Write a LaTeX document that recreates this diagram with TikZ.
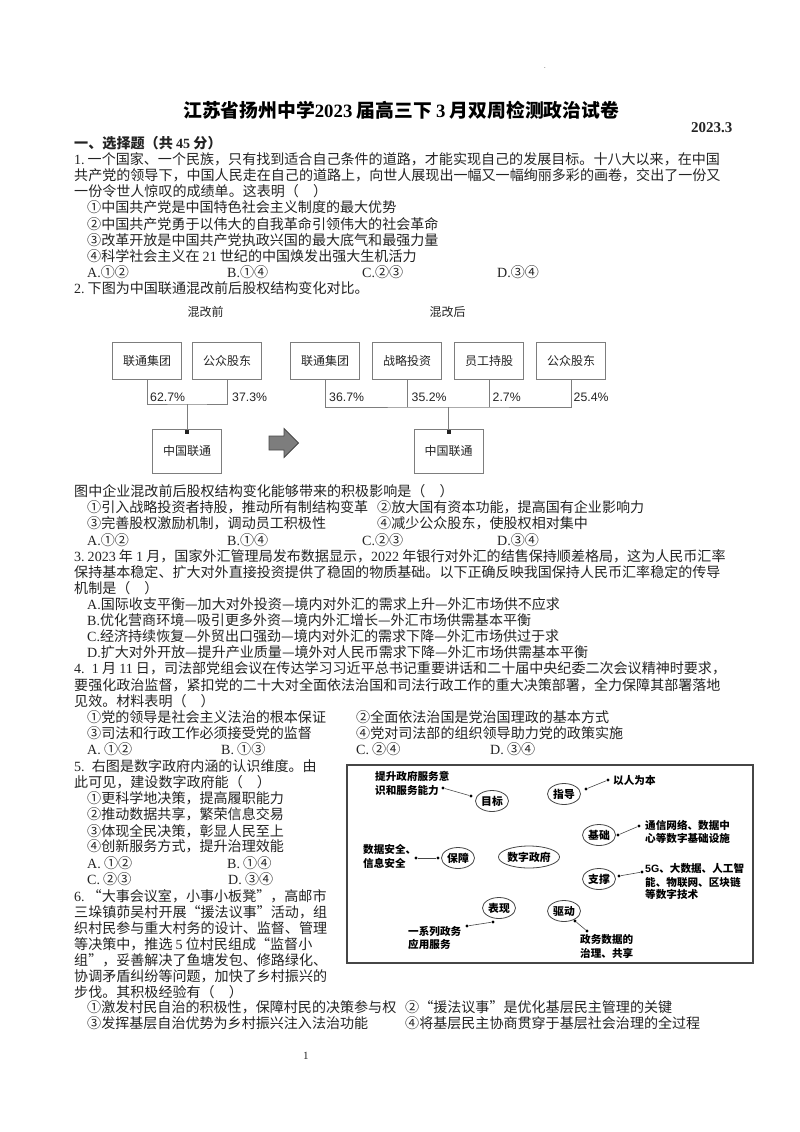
\documentclass[tikz,border=0pt]{standalone}
\usepackage{fontspec}
\setmainfont{Noto Sans CJK SC}
\newfontfamily\latf{Liberation Serif}
\newfontfamily\arialf{Liberation Sans}
\usepackage{xcolor}
\usetikzlibrary{shapes,positioning}
\definecolor{inkgray}{RGB}{35,35,35}
\definecolor{boxgray}{RGB}{125,125,125}
\definecolor{framegray}{RGB}{70,70,70}
\newcommand{\latn}[1]{{\latf #1}}
\tikzstyle{qline} = [anchor=base west, inner sep=0pt, text=inkgray, font=\fontsize{14.05}{16}\selectfont]
\tikzstyle{holdbox} = [rectangle, draw=boxgray, minimum width=69pt, minimum height=37pt, inner sep=0pt, text=inkgray, font=\fontsize{12}{14}\selectfont]
\tikzstyle{pct} = [anchor=base west, inner sep=0pt, text=inkgray, font=\arialf\fontsize{12.3}{14}\selectfont]
\tikzstyle{capt} = [inner sep=0pt, text=inkgray, font=\fontsize{12}{14}\selectfont]
\tikzstyle{bus} = [boxgray, thick]
\tikzstyle{pin} = [rectangle, fill=inkgray, minimum size=4pt, inner sep=0pt]
\tikzstyle{oval} = [ellipse, draw=framegray, thick, minimum width=33pt, minimum height=21pt, inner sep=0pt, font=\bfseries\fontsize{10.8}{12}\selectfont]
\tikzstyle{dotend} = [circle, fill=black, minimum size=3.4pt, inner sep=0pt]
\tikzstyle{link} = [framegray, semithick]
\tikzstyle{tag} = [anchor=base west, inner sep=0pt, font=\bfseries\fontsize{10.6}{12}\selectfont]
\begin{document}
\begin{tikzpicture}[x=1pt,y=-1pt]
\useasboundingbox (0,0) rectangle (800,1132);
% Head
\node[inner sep=0pt, font=\arialf\fontsize{6}{6}\selectfont] (topmark) at (545,68) {.};
\node[inner sep=0pt, anchor=base west, font=\bfseries\fontsize{18.8}{22}\selectfont] (title) at (183,117) {江苏省扬州中学\latn{2023} 届高三下 \latn{3} 月双周检测政治试卷};
\node[qline, font=\latf\bfseries\fontsize{15}{15}\selectfont] (date) at (691,132) {2023.3};
\node[qline, font=\bfseries\fontsize{14.1}{16}\selectfont] (part) at (74,148) {一、选择题（共 \latn{45} 分）};
% Question 1
\node[qline] (q1a) at (74,164) {\latn{1.\kern3pt}一个国家、一个民族，只有找到适合自己条件的道路，才能实现自己的发展目标。十八大以来，在中国};
\node[qline] (q1b) at (74,180) {共产党的领导下，中国人民走在自己的道路上，向世人展现出一幅又一幅绚丽多彩的画卷，交出了一份又};
\node[qline] (q1c) at (74,196) {一份令世人惊叹的成绩单。这表明（　）};
\node[qline] (q1d) at (87,212) {①中国共产党是中国特色社会主义制度的最大优势};
\node[qline] (q1e) at (87,229) {②中国共产党勇于以伟大的自我革命引领伟大的社会革命};
\node[qline] (q1f) at (87,245) {③改革开放是中国共产党执政兴国的最大底气和最强力量};
\node[qline] (q1g) at (87,261) {④科学社会主义在 \latn{21} 世纪的中国焕发出强大生机活力};
\node[qline] (q1A) at (87,277) {\latn{A.}①②};
\node[qline] (q1B) at (227,277) {\latn{B.}①④};
\node[qline] (q1C) at (362,277) {\latn{C.}②③};
\node[qline] (q1D) at (497,277) {\latn{D.}③④};
% Question 2
\node[qline] (q2a) at (74,293) {\latn{2.\kern3pt}下图为中国联通混改前后股权结构变化对比。};
\node[capt] (before) at (205.5,312) {混改前};
\node[capt] (after) at (447.5,312) {混改后};
\node[holdbox] (jt1) at (147,360.5) {联通集团};
\node[holdbox] (gz1) at (227,360.5) {公众股东};
\node[holdbox, minimum height=44pt] (cn1) at (187,451) {中国联通};
\coordinate (join1) at (187,404);
\draw[bus] (jt1.south) |- (join1) -| (gz1.south);
\draw[bus] (join1) -- (cn1.north);
\node[pin, below=0.5pt of cn1.north] (pin1) {};
\node[pct] (p11) at (150,401.5) {62.7\%};
\node[pct] (p12) at (232,401.5) {37.3\%};
\draw[framegray, fill=boxgray, thick] (269,436) -- (284,436) -- (284,428.5) -- (298.5,443) -- (284,457.5) -- (284,450) -- (269,450) -- cycle;
\node[holdbox] (jt2) at (325,360.5) {联通集团};
\node[holdbox] (zl2) at (407,360.5) {战略投资};
\node[holdbox] (yg2) at (489,360.5) {员工持股};
\node[holdbox] (gz2) at (571,360.5) {公众股东};
\node[holdbox, minimum height=44pt] (cn2) at (448.5,451) {中国联通};
\coordinate (join2) at (448.5,407);
\draw[bus] (jt2.south) |- (join2) -| (gz2.south);
\draw[bus] (zl2.south) -- (zl2.south |- join2);
\draw[bus] (yg2.south) -- (yg2.south |- join2);
\draw[bus] (join2) -- (cn2.north);
\node[pin, below=0.5pt of cn2.north] (pin2) {};
\node[pct] (p21) at (329,401.5) {36.7\%};
\node[pct] (p22) at (411.5,401.5) {35.2\%};
\node[pct] (p23) at (492.5,401.5) {2.7\%};
\node[pct] (p24) at (573.5,401.5) {25.4\%};
\node[qline] (q2b) at (74,496) {图中企业混改前后股权结构变化能够带来的积极影响是（　）};
\node[qline] (q2c) at (87,512) {①引入战略投资者持股，推动所有制结构变革};
\node[qline] (q2d) at (377,512) {②放大国有资本功能，提高国有企业影响力};
\node[qline] (q2e) at (87,528) {③完善股权激励机制，调动员工积极性};
\node[qline] (q2f) at (377,528) {④减少公众股东，使股权相对集中};
\node[qline] (q2A) at (87,545) {\latn{A.}①②};
\node[qline] (q2B) at (227,545) {\latn{B.}①④};
\node[qline] (q2C) at (362,545) {\latn{C.}②③};
\node[qline] (q2D) at (497,545) {\latn{D.}③④};
% Question 3
\node[qline] (q3a) at (74,561) {\latn{3.\kern3pt 2023} 年 \latn{1} 月，国家外汇管理局发布数据显示，\latn{2022} 年银行对外汇的结售保持顺差格局，这为人民币汇率};
\node[qline] (q3b) at (74,577) {保持基本稳定、扩大对外直接投资提供了稳固的物质基础。以下正确反映我国保持人民币汇率稳定的传导};
\node[qline] (q3c) at (74,593) {机制是（　）};
\node[qline] (q3A) at (87,609) {\latn{A.}国际收支平衡—加大对外投资—境内对外汇的需求上升—外汇市场供不应求};
\node[qline] (q3B) at (87,625) {\latn{B.}优化营商环境—吸引更多外资—境内外汇增长—外汇市场供需基本平衡};
\node[qline] (q3C) at (87,641) {\latn{C.}经济持续恢复—外贸出口强劲—境内对外汇的需求下降—外汇市场供过于求};
\node[qline] (q3D) at (87,657) {\latn{D.}扩大对外开放—提升产业质量—境外对人民币需求下降—外汇市场供需基本平衡};
% Question 4
\node[qline] (q4a) at (74,673) {\latn{4.\kern3pt} \latn{1} 月 \latn{11} 日，司法部党组会议在传达学习习近平总书记重要讲话和二十届中央纪委二次会议精神时要求，};
\node[qline] (q4b) at (74,690) {要强化政治监督，紧扣党的二十大对全面依法治国和司法行政工作的重大决策部署，全力保障其部署落地};
\node[qline] (q4c) at (74,706) {见效。材料表明（　）};
\node[qline] (q4d) at (87,722) {①党的领导是社会主义法治的根本保证};
\node[qline] (q4e) at (356,722) {②全面依法治国是党治国理政的基本方式};
\node[qline] (q4f) at (87,738) {③司法和行政工作必须接受党的监督};
\node[qline] (q4g) at (356,738) {④党对司法部的组织领导助力党的政策实施};
\node[qline] (q4A) at (87,754) {\latn{A.} ①②};
\node[qline] (q4B) at (221,754) {\latn{B.} ①③};
\node[qline] (q4C) at (356,754) {\latn{C.} ②④};
\node[qline] (q4D) at (490,754) {\latn{D.} ③④};
% Question 5
\node[qline] (q5a) at (74,771) {\latn{5.\kern3pt} 右图是数字政府内涵的认识维度。由};
\node[qline] (q5b) at (74,787) {此可见，建设数字政府能（　）};
\node[qline] (q5c) at (87,803) {①更科学地决策，提高履职能力};
\node[qline] (q5d) at (87,819) {②推动数据共享，繁荣信息交易};
\node[qline] (q5e) at (87,836) {③体现全民决策，彰显人民至上};
\node[qline] (q5f) at (87,851) {④创新服务方式，提升治理效能};
\node[qline] (q5A) at (87,868) {\latn{A.} ①②};
\node[qline] (q5B) at (227,868) {\latn{B.} ①④};
\node[qline] (q5C) at (87,884) {\latn{C.} ②③};
\node[qline] (q5D) at (228,884) {\latn{D.} ③④};
% Figure of question 5
\node[draw=framegray, line width=1.6pt, minimum width=406pt, minimum height=198pt, inner sep=0pt] (frame) at (550,864) {};
\node[oval, minimum width=55pt, minimum height=22pt] (szzf) at (529,857) {数字政府};
\node[oval] (mb) at (492,801) {目标};
\node[oval] (zd) at (564,794) {指导};
\node[oval] (jc) at (599,835) {基础};
\node[oval] (bz) at (458,858) {保障};
\node[oval] (zc) at (599,879) {支撑};
\node[oval] (bx) at (499,908) {表现};
\node[oval] (qd) at (564,911) {驱动};
\node[dotend] (mb1) at (443,788) {};
\node[dotend] (mb2) at (471,796) {};
\node[dotend] (zd1) at (586,789) {};
\node[dotend] (zd2) at (608,780) {};
\node[dotend] (jc1) at (618,835) {};
\node[dotend] (jc2) at (639,826) {};
\node[dotend] (bz1) at (416,858) {};
\node[dotend] (bz2) at (438,858) {};
\node[dotend] (zc1) at (619,876) {};
\node[dotend] (zc2) at (642,872) {};
\node[dotend] (bx1) at (493,922) {};
\node[dotend] (bx2) at (467,926) {};
\node[dotend] (qd1) at (575,921) {};
\node[dotend] (qd2) at (587,931) {};
\draw[link] (mb1) -- (mb2);
\draw[link] (zd1) -- (zd2);
\draw[link] (jc1) -- (jc2);
\draw[link] (bz1) -- (bz2);
\draw[link] (zc1) -- (zc2);
\draw[link] (bx1) -- (bx2);
\draw[link] (qd1) -- (qd2);
\node[tag] (t1a) at (375,780) {提升政府服务意};
\node[tag] (t1b) at (375,794) {识和服务能力};
\node[tag] (t2) at (613,784) {以人为本};
\node[tag] (t3a) at (645,829) {通信网络、数据中};
\node[tag] (t3b) at (645,842) {心等数字基础设施};
\node[tag] (t4a) at (363,853) {数据安全、};
\node[tag] (t4b) at (363,867) {信息安全};
\node[tag] (t5a) at (645,872) {{\arialf 5G}、大数据、人工智};
\node[tag] (t5b) at (645,886) {能、物联网、区块链};
\node[tag] (t5c) at (645,898) {等数字技术};
\node[tag] (t6a) at (408,935) {一系列政务};
\node[tag] (t6b) at (408,948) {应用服务};
\node[tag] (t7a) at (580,943) {政务数据的};
\node[tag] (t7b) at (580,957) {治理、共享};
% Question 6
\node[qline] (q6a) at (74,901) {\latn{6.\kern3pt}“大事会议室，小事小板凳”，高邮市};
\node[qline] (q6b) at (74,917) {三垛镇茆吴村开展“援法议事”活动，组};
\node[qline] (q6c) at (74,933) {织村民参与重大村务的设计、监督、管理};
\node[qline] (q6d) at (74,949) {等决策中，推选 \latn{5} 位村民组成“监督小};
\node[qline] (q6e) at (74,965) {组”，妥善解决了鱼塘发包、修路绿化、};
\node[qline] (q6f) at (74,981) {协调矛盾纠纷等问题，加快了乡村振兴的};
\node[qline] (q6g) at (74,997) {步伐。其积极经验有（　）};
\node[qline] (q6h) at (87,1012) {①激发村民自治的积极性，保障村民的决策参与权};
\node[qline] (q6i) at (405,1012) {②“援法议事”是优化基层民主管理的关键};
\node[qline] (q6j) at (87,1028) {③发挥基层自治优势为乡村振兴注入法治功能};
\node[qline] (q6k) at (405,1028) {④将基层民主协商贯穿于基层社会治理的全过程};
\node[qline, font=\latf\fontsize{11}{12}\selectfont] (pageno) at (303,1059) {1};
\end{tikzpicture}
\end{document}
